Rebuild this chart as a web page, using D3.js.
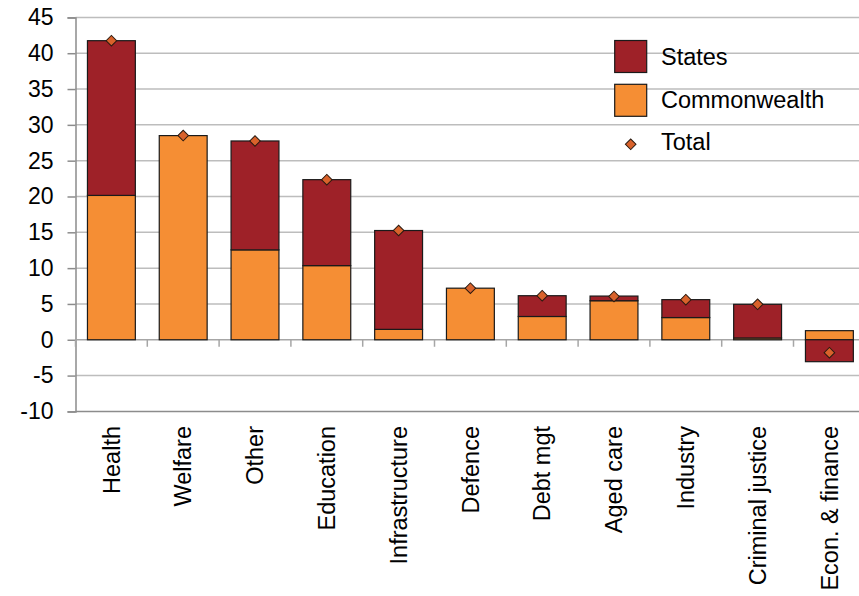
<!DOCTYPE html>
<html><head><meta charset="utf-8">
<script src="https://cdn.jsdelivr.net/npm/d3@7"></script>
<style>body{margin:0;background:#fff}svg{display:block}text{font-family:"Liberation Sans",Arial,sans-serif;fill:#000}</style>
</head><body><svg id="c" width="859" height="596"></svg>
<script>
const categories = ["Health","Welfare","Other","Education","Infrastructure","Defence","Debt mgt","Aged care","Industry","Criminal justice","Econ. & finance"];
const commonwealth = [20.15, 28.5, 12.55, 10.35, 1.45, 7.2, 3.25, 5.45, 3.1, 0.25, 1.27];
const states = [21.6, 0, 15.2, 12.0, 13.8, 0, 2.9, 0.65, 2.5, 4.7, -3.06];
const totals = [41.75, 28.5, 27.75, 22.35, 15.25, 7.2, 6.15, 6.05, 5.6, 4.95, -1.8];
const yTicks = [-10, -5, 0, 5, 10, 15, 20, 25, 30, 35, 40, 45];
const seriesNames = ["States", "Commonwealth", "Total"];

const colors = {Commonwealth: "#F58E34", States: "#9E2128", Total: "#D9622B"};
const svg = d3.select("#c");
const pLeft = 75.5, pRight = 865.3, pTop = 17.4, pBottom = 411.4;
const y = d3.scaleLinear().domain([-10, 45]).range([pBottom, pTop]);
const x = d3.scaleBand().domain(categories).range([pLeft, pRight]).paddingInner(0.333).paddingOuter(0.1665);

// gridlines
svg.append("g").selectAll("line").data(yTicks.filter(d => d !== 0 && d !== -10)).join("line")
  .attr("x1", pLeft).attr("x2", 859).attr("y1", d => y(d)).attr("y2", d => y(d))
  .attr("stroke", "#bdbdbd").attr("stroke-width", 1.5);
svg.append("line").attr("x1", pLeft).attr("x2", 859).attr("y1", y(-10)).attr("y2", y(-10))
  .attr("stroke", "#8c8c8c").attr("stroke-width", 1.5);

// y axis
const ya = svg.append("g").attr("transform", `translate(${pLeft},0)`)
  .call(d3.axisLeft(y).tickValues(yTicks).tickSize(8).tickPadding(14).tickFormat(d => String(d)));
ya.select(".domain").attr("stroke", "#8c8c8c").attr("stroke-width", 1.5);
ya.selectAll(".tick line").attr("stroke", "#8c8c8c").attr("stroke-width", 1.5);
ya.selectAll(".tick text").style("font-size", "23px").style("font-family", '"Liberation Sans",Arial,sans-serif').attr("fill", "#000");

const data = categories.map((c, i) => ({cat: c, Commonwealth: commonwealth[i], States: states[i], total: totals[i]}));
const stack = d3.stack().keys(["Commonwealth", "States"]).offset(d3.stackOffsetDiverging);
const layers = stack(data);

// zero line + x ticks
svg.append("line").attr("x1", pLeft).attr("x2", 859).attr("y1", y(0)).attr("y2", y(0))
  .attr("stroke", "#a6a6a6").attr("stroke-width", 1.5);
const step = x.step();
svg.append("g").selectAll("line").data(d3.range(0, 12)).join("line")
  .attr("x1", i => pLeft + i * step).attr("x2", i => pLeft + i * step)
  .attr("y1", y(0)).attr("y2", y(0) + 7).attr("stroke", "#a6a6a6").attr("stroke-width", 1.5);

svg.append("g").selectAll("g").data(layers).join("g")
  .attr("fill", d => colors[d.key])
  .selectAll("rect").data(d => d.filter(p => p[1] - p[0] !== 0)).join("rect")
  .attr("x", d => x(d.data.cat)).attr("width", x.bandwidth())
  .attr("y", d => y(Math.max(d[0], d[1])))
  .attr("height", d => Math.abs(y(d[0]) - y(d[1])))
  .attr("stroke", "#1a1a1a").attr("stroke-width", 1.2);

const diamond = d3.symbol().type(d3.symbolSquare).size(56);
svg.append("g").selectAll("path").data(data).join("path")
  .attr("d", diamond)
  .attr("transform", d => `translate(${x(d.cat) + x.bandwidth() / 2},${y(d.total)}) rotate(45)`)
  .attr("fill", colors.Total).attr("stroke", "#2a1a10").attr("stroke-width", 1);

// x labels
svg.append("g").selectAll("text").data(categories).join("text")
  .attr("transform", d => `translate(${x(d) + x.bandwidth() / 2},426) rotate(-90)`)
  .attr("text-anchor", "end").attr("dy", "0.35em")
  .style("font-size", "23.5px").text(d => d);

// legend
const lg = svg.append("g");
const lx = 614.7;
lg.append("rect").attr("x", lx).attr("y", 40.5).attr("width", 32).attr("height", 32)
  .attr("fill", colors.States).attr("stroke", "#1a1a1a").attr("stroke-width", 1.2);
lg.append("rect").attr("x", lx).attr("y", 84.3).attr("width", 32).attr("height", 32)
  .attr("fill", colors.Commonwealth).attr("stroke", "#1a1a1a").attr("stroke-width", 1.2);
lg.append("path").attr("d", diamond).attr("transform", `translate(${lx + 16},144.3) rotate(45)`)
  .attr("fill", colors.Total).attr("stroke", "#2a1a10").attr("stroke-width", 1);
lg.selectAll("text").data(seriesNames).join("text")
  .attr("x", 661).attr("y", (d, i) => 57 + i * 42.5).attr("dy", "0.35em")
  .style("font-size", "23.5px").text(d => d);
</script></body></html>
